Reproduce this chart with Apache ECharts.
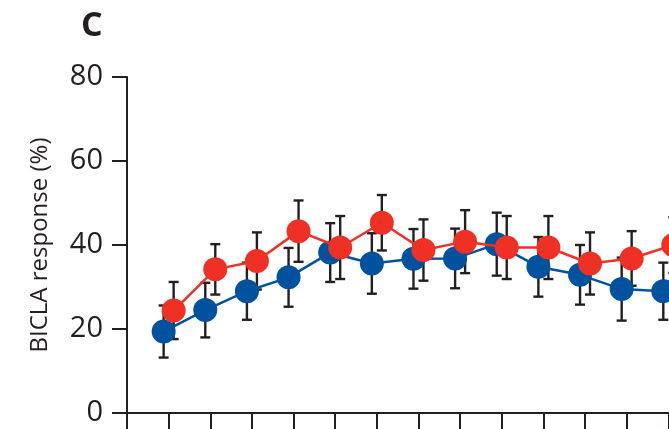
<!DOCTYPE html>
<html>
<head>
<meta charset="utf-8">
<script src="https://cdn.jsdelivr.net/npm/echarts@6/dist/echarts.min.js"></script>
<style>
  html, body { margin: 0; padding: 0; background: #ffffff; }
  #chart { width: 669px; height: 429px; }
</style>
</head>
<body>
<div id="chart"></div>
<script>
// Visit index (weeks) and BICLA response rates (%) with ± error for both arms
const visits = [1, 2, 3, 4, 5, 6, 7, 8, 9, 10, 11, 12, 13];
const blueMean = [19.4, 24.5, 29.0, 32.3, 38.2, 35.6, 36.7, 36.8, 40.2, 34.8, 32.9, 29.5, 29.0];
const blueErr  = [6.2, 6.5, 6.8, 7.0, 7.0, 7.2, 7.1, 7.1, 7.5, 7.1, 7.1, 7.5, 6.8];
const redMean  = [24.4, 34.2, 36.2, 43.3, 39.4, 45.3, 38.8, 40.8, 39.4, 39.4, 35.6, 36.8, 40.0];
const redErr   = [6.8, 6.0, 6.8, 7.3, 7.5, 6.6, 7.3, 7.5, 7.5, 7.5, 7.4, 6.5, 6.6];
const yTicks = [0, 20, 40, 60, 80];

const BLUE = '#00529F';
const RED = '#EE3124';
const INK = '#231F20';
const FONT = '"Open Sans", "Noto Sans", sans-serif';

// small horizontal dodge so the two arms do not sit on top of each other
const DODGE = 0.12;

const bluePts = visits.map((v, i) => [v - DODGE, blueMean[i]]);
const redPts = visits.map((v, i) => [v + DODGE, redMean[i]]);
const errData = visits.map((v, i) => [v - DODGE, blueMean[i] - blueErr[i], blueMean[i] + blueErr[i]])
  .concat(visits.map((v, i) => [v + DODGE, redMean[i] - redErr[i], redMean[i] + redErr[i]]));

function renderErrorBar(params, api) {
  const x = api.value(0);
  const lo = api.coord([x, api.value(1)]);
  const hi = api.coord([x, api.value(2)]);
  const half = 5;
  const style = { stroke: INK, lineWidth: 2.4, fill: null };
  return {
    type: 'group',
    children: [
      { type: 'line', shape: { x1: lo[0], y1: lo[1], x2: hi[0], y2: hi[1] }, style },
      { type: 'line', shape: { x1: hi[0] - half, y1: hi[1], x2: hi[0] + half, y2: hi[1] }, style },
      { type: 'line', shape: { x1: lo[0] - half, y1: lo[1], x2: lo[0] + half, y2: lo[1] }, style }
    ]
  };
}

const chart = echarts.init(document.getElementById('chart'), null, { renderer: 'canvas' });
chart.setOption({
  animation: false,
  backgroundColor: '#ffffff',
  graphic: [{
    type: 'text',
    left: 81,
    top: 9,
    style: { text: 'C', font: 'bold 34px ' + FONT, fill: INK }
  }],
  grid: { left: 127, right: 0.7, top: 77, bottom: 16, containLabel: false },
  xAxis: {
    type: 'value',
    min: 0,
    max: 13,
    interval: 1,
    axisLine: { show: true, onZero: false, lineStyle: { color: INK, width: 2 } },
    axisTick: { show: true, inside: false, length: 18, lineStyle: { color: INK, width: 2 } },
    axisLabel: { show: false },
    splitLine: { show: false }
  },
  yAxis: {
    type: 'value',
    min: yTicks[0],
    max: yTicks[yTicks.length - 1],
    interval: yTicks[1] - yTicks[0],
    name: 'BICLA response (%)',
    nameLocation: 'middle',
    nameRotate: 90,
    nameGap: 75,
    nameTextStyle: { fontFamily: FONT, fontSize: 24, color: INK },
    axisLine: { show: true, lineStyle: { color: INK, width: 2 } },
    axisTick: { show: true, inside: false, length: 15, lineStyle: { color: INK, width: 2 } },
    axisLabel: { margin: 24, fontFamily: FONT, fontSize: 29, color: INK },
    splitLine: { show: false }
  },
  series: [
    {
      type: 'custom',
      name: 'error',
      renderItem: renderErrorBar,
      data: errData,
      z: 1,
      clip: false,
      silent: true
    },
    {
      type: 'line',
      name: 'blue',
      data: bluePts,
      symbol: 'circle',
      symbolSize: 24,
      lineStyle: { color: BLUE, width: 2.5 },
      itemStyle: { color: BLUE },
      z: 2,
      clip: false
    },
    {
      type: 'line',
      name: 'red',
      data: redPts,
      symbol: 'circle',
      symbolSize: 24,
      lineStyle: { color: RED, width: 2.5 },
      itemStyle: { color: RED },
      z: 3,
      clip: false
    }
  ]
});
</script>
</body>
</html>
